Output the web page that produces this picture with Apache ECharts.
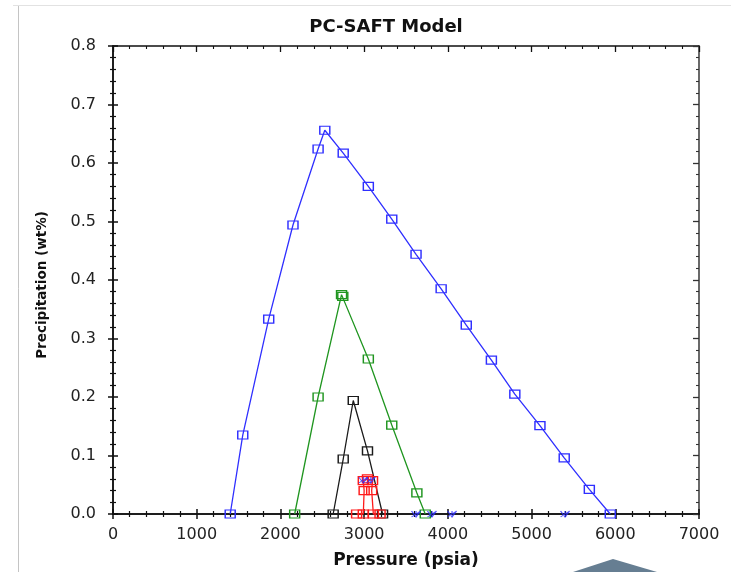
<!DOCTYPE html>
<html>
<head>
<meta charset="utf-8">
<title>PC-SAFT Model</title>
<script src="https://cdn.jsdelivr.net/npm/echarts@6/dist/echarts.min.js"></script>
<style>
  html, body { margin: 0; padding: 0; background: #fff; }
  #chart { width: 731px; height: 572px; }
</style>
</head>
<body>
<div id="chart"></div>
<script>
// Asphaltene precipitation curves (wt%) versus pressure (psia)
const bluePressure  = [1400, 1550, 1860, 2150, 2450, 2530, 2750, 3050, 3330, 3620, 3920, 4220, 4520, 4800, 5100, 5390, 5690, 5940];
const blueWt        = [0, 0.135, 0.333, 0.494, 0.624, 0.656, 0.617, 0.560, 0.504, 0.444, 0.385, 0.323, 0.263, 0.205, 0.151, 0.096, 0.042, 0];

const greenPressure = [2170, 2450, 2730, 2745, 3050, 3330, 3630, 3730];
const greenWt       = [0, 0.200, 0.375, 0.372, 0.265, 0.152, 0.036, 0];

const blackPressure = [2630, 2750, 2870, 3040, 3220];
const blackWt       = [0, 0.094, 0.194, 0.108, 0];

const redPressure   = [2910, 2990, 3000, 2990, 3040, 3100, 3090, 3110, 3190];
const redWt         = [0, 0, 0.040, 0.057, 0.060, 0.057, 0.040, 0, 0];

const onsetPressure = [2990, 3080, 3620, 3810, 4050, 5400];
const onsetWt       = [0.058, 0.058, 0, 0, 0, 0];

const xTicks = [0, 1000, 2000, 3000, 4000, 5000, 6000, 7000];
const yTicks = [0.0, 0.1, 0.2, 0.3, 0.4, 0.5, 0.6, 0.7, 0.8];

const zip = (xs, ys) => xs.map((x, i) => [x, ys[i]]);

const BLUE = '#2f2fff', GREEN = '#1f951f', BLACK = '#1a1a1a', RED = '#ff1a1a';
const FONT = 'DejaVu Sans';

const chart = echarts.init(document.getElementById('chart'), null, { renderer: 'canvas' });

function squareSeries(color, data) {
  return {
    type: 'line',
    data: data,
    xAxisIndex: 0, yAxisIndex: 0,
    symbol: 'rect',
    symbolSize: [10, 8],
    showAllSymbol: true,
    lineStyle: { color: color, width: 1.3 },
    itemStyle: { color: 'rgba(255,255,255,0)', borderColor: color, borderWidth: 1.3 },
    emphasis: { disabled: true },
    animation: false,
    z: 3
  };
}

// Both grids share one rectangle; the second one only carries extra tick marks
// so that the bottom and left axes get ticks on both sides of the line.
const gridRect = { left: 113, right: 32, top: 46, bottom: 58, containLabel: false, outerBoundsMode: 'none' };

function xAxisDef(extra) {
  return Object.assign({
    type: 'value', min: xTicks[0], max: xTicks[xTicks.length - 1], interval: 1000,
    splitLine: { show: false },
    axisLabel: { show: false },
    axisLine: { show: true, onZero: false, lineStyle: { color: '#111', width: 1.5 } },
    axisTick: { show: true, inside: true, length: 5, lineStyle: { color: '#111', width: 1.5 } },
    minorTick: { show: true, splitNumber: 5, length: 3, lineStyle: { color: '#111', width: 1.2 } }
  }, extra);
}
function yAxisDef(extra) {
  return Object.assign({
    type: 'value', min: yTicks[0], max: yTicks[yTicks.length - 1], interval: 0.1,
    splitLine: { show: false },
    axisLabel: { show: false },
    axisLine: { show: true, onZero: false, lineStyle: { color: '#111', width: 1.5 } },
    axisTick: { show: true, inside: true, length: 5, lineStyle: { color: '#111', width: 1.5 } },
    minorTick: { show: true, splitNumber: 5, length: 3, lineStyle: { color: '#111', width: 1.2 } }
  }, extra);
}

chart.setOption({
  backgroundColor: '#ffffff',
  animation: false,
  title: {
    text: 'PC-SAFT Model',
    left: 381, top: 13, textAlign: 'center',
    textStyle: { fontFamily: FONT, fontWeight: 'bold', fontSize: 18, color: '#111' }
  },
  grid: [Object.assign({}, gridRect), Object.assign({}, gridRect)],
  xAxis: [
    xAxisDef({
      gridIndex: 0, position: 'bottom',
      name: 'Pressure (psia)', nameLocation: 'middle', nameGap: 38,
      nameTextStyle: { fontFamily: FONT, fontWeight: 'bold', fontSize: 17, color: '#111' },
      axisLabel: { show: true, margin: 13, fontFamily: FONT, fontSize: 16, color: '#222',
                   formatter: v => String(v) },
      axisTick: { show: true, inside: false, length: 5, lineStyle: { color: '#111', width: 1.5 } },
      minorTick: { show: true, splitNumber: 5, length: 3, lineStyle: { color: '#111', width: 1.2 } }
    }),
    xAxisDef({
      gridIndex: 0, position: 'top',
      axisTick: { show: true, inside: true, length: 6, lineStyle: { color: '#111', width: 1.3 } },
      minorTick: { show: true, splitNumber: 5, length: 3, lineStyle: { color: '#111', width: 1.1 } }
    }),
    xAxisDef({ gridIndex: 1, position: 'bottom' })
  ],
  yAxis: [
    yAxisDef({
      gridIndex: 0, position: 'left',
      axisLabel: { show: true, margin: 17, fontFamily: FONT, fontSize: 16, color: '#222',
                   formatter: v => v.toFixed(1) },
      axisTick: { show: true, inside: false, length: 5, lineStyle: { color: '#111', width: 1.5 } },
      minorTick: { show: true, splitNumber: 5, length: 3, lineStyle: { color: '#111', width: 1.2 } }
    }),
    yAxisDef({
      gridIndex: 0, position: 'right',
      axisLine: { show: true, onZero: false, lineStyle: { color: '#444', width: 1.6 } },
      axisTick: { show: true, inside: true, length: 6, lineStyle: { color: '#333', width: 1.3 } },
      minorTick: { show: true, splitNumber: 5, length: 3, lineStyle: { color: '#333', width: 1.1 } }
    }),
    yAxisDef({ gridIndex: 1, position: 'left' })
  ],
  series: [
    squareSeries(BLUE, zip(bluePressure, blueWt)),
    squareSeries(GREEN, zip(greenPressure, greenWt)),
    squareSeries(BLACK, zip(blackPressure, blackWt)),
    squareSeries(RED, zip(redPressure, redWt)),
    {
      type: 'scatter',
      data: zip(onsetPressure, onsetWt),
      xAxisIndex: 0, yAxisIndex: 0,
      symbol: 'path://M0,0L5,6L10,0M0,6L10,0M5,0L5,6',
      symbolSize: [9, 6],
      itemStyle: { color: 'rgba(0,0,0,0)', borderColor: BLUE, borderWidth: 1 },
      emphasis: { disabled: true },
      z: 4
    },
    // empty series keeps the second grid's axes alive
    { type: 'line', xAxisIndex: 2, yAxisIndex: 2, data: [], silent: true }
  ],
  graphic: [
    // page frame
    { type: 'line', shape: { x1: 18.5, y1: 5.5, x2: 18.5, y2: 572 }, style: { stroke: '#c4c4c4', lineWidth: 1 }, silent: true },
    { type: 'line', shape: { x1: 13, y1: 5.5, x2: 731, y2: 5.5 }, style: { stroke: '#e2e2e2', lineWidth: 1 }, silent: true },
    // vertical axis title
    { type: 'text', x: 42, y: 285, rotation: Math.PI / 2, silent: true,
      style: { text: 'Precipitation (wt%)', fontFamily: FONT, fontWeight: 'bold', fontSize: 13.5,
               fill: '#111', align: 'center', verticalAlign: 'middle' } },
    // corner marker at the lower edge
    { type: 'polygon', shape: { points: [[573, 572], [613, 559], [657, 572]] }, style: { fill: '#667e92' }, silent: true }
  ]
});
</script>
</body>
</html>
